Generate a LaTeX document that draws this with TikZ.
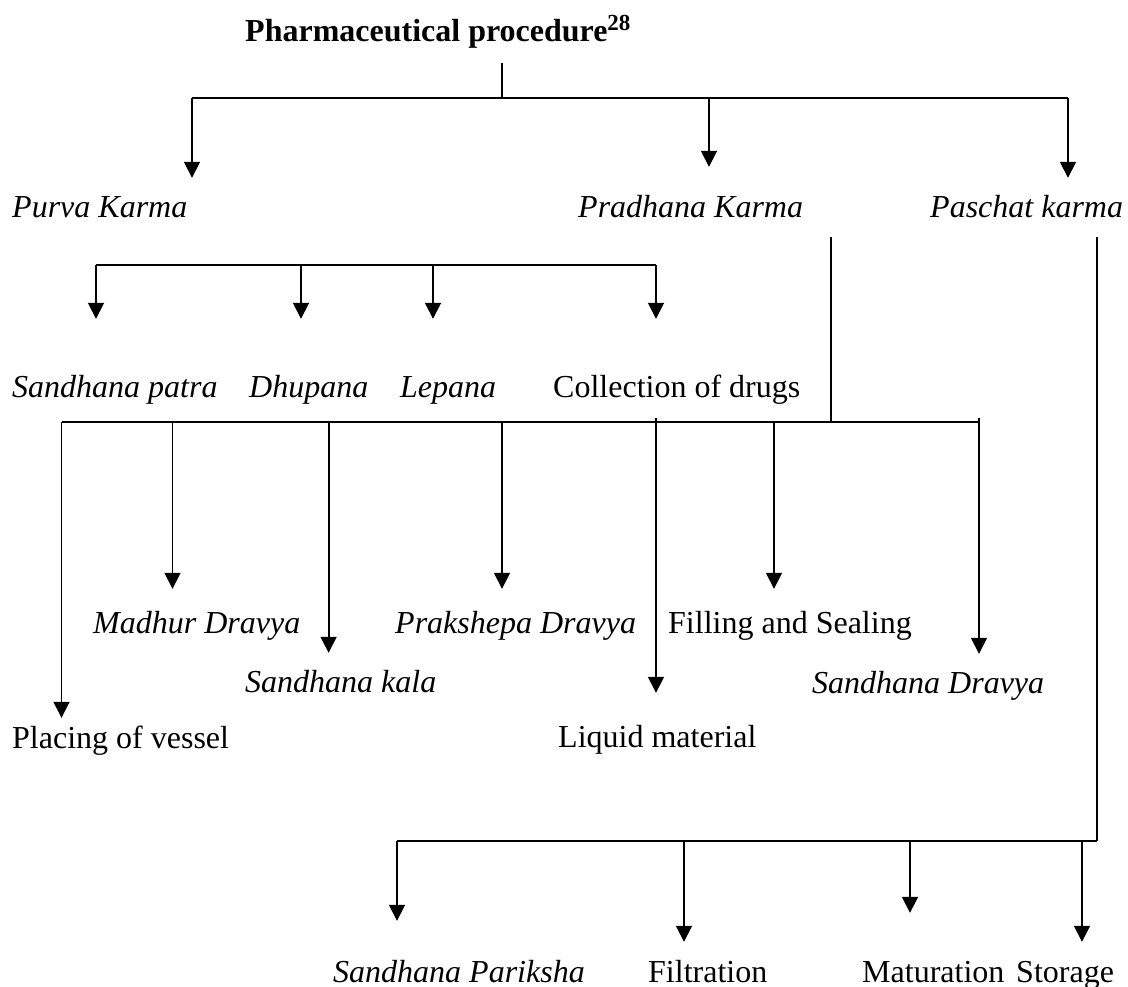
\documentclass[tikz,border=0pt]{standalone}
\usepackage{fontspec}
\setmainfont{Liberation Serif}
\usetikzlibrary{arrows.meta}
\begin{document}
\begin{tikzpicture}[x=1pt,y=-1pt,
  txt/.style={inner sep=0pt,anchor=base west,text height=22pt,text depth=7pt,
              font=\fontsize{32}{38}\selectfont},
  itxt/.style={txt,font=\fontsize{32}{38}\selectfont\itshape},
  btxt/.style={txt,font=\fontsize{32}{38}\selectfont\bfseries},
  wire/.style={line width=1.8pt},
  arr/.style={wire,-{Triangle[width=16pt,length=16pt]}}]
\useasboundingbox (0,0) rectangle (1128,987);

% ---------- labels ----------
\node[btxt] (title) at (245,42) {Pharmaceutical procedure\raisebox{11pt}{\fontsize{23}{26}\selectfont 28}};

\node[itxt] (purva)    at (12,218)  {Purva Karma};
\node[itxt] (pradhana) at (578,218) {Pradhana Karma};
\node[itxt] (paschat)  at (930,218) {Paschat karma};

\node[itxt] (spatra)     at (12,397)  {Sandhana patra};
\node[itxt] (dhupana)    at (249,397) {Dhupana};
\node[itxt] (lepana)     at (400,397) {Lepana};
\node[txt]  (collection) at (553,397) {Collection of drugs};

\node[itxt] (madhur)    at (93,633)  {Madhur Dravya};
\node[itxt] (prakshepa) at (395,633) {Prakshepa Dravya};
\node[txt]  (filling)   at (668,633) {Filling and Sealing};
\node[itxt] (skala)     at (245,692) {Sandhana kala};
\node[itxt] (sdravya)   at (812,693) {Sandhana Dravya};
\node[txt]  (placing)   at (12,748)  {Placing of vessel};
\node[txt]  (liquid)    at (558,747) {Liquid material};

\node[itxt] (pariksha)   at (333,982)  {Sandhana Pariksha};
\node[txt]  (filtration) at (648,982)  {Filtration};
\node[txt]  (maturation) at (862,982)  {Maturation};
\node[txt]  (storage)    at (1016,982) {Storage};

% ---------- top level ----------
\coordinate (kTop)      at (502,98);
\coordinate (kPurva)    at (192,98);
\coordinate (kPradhana) at (709,98);
\coordinate (kPaschat)  at (1068,98);
\draw[wire,shorten <=14pt] (title.south -| kTop) -- (kTop);
\draw[wire] (kPurva) -- (kPaschat);
\draw[arr,shorten >=18pt] (kPurva) -- (kPurva |- purva.north);
\draw[arr,shorten >=29pt] (kPradhana) -- (kPradhana |- pradhana.north);
\draw[arr,shorten >=18pt] (kPaschat) -- (kPaschat |- paschat.north);

% ---------- Purva Karma branches ----------
\coordinate (kSp) at (96,265);
\coordinate (kDh) at (301,265);
\coordinate (kLe) at (433,265);
\coordinate (kCo) at (656,265);
\draw[wire] (kSp) -- (kCo);
\draw[arr,shorten >=56pt] (kSp) -- (kSp |- spatra.north);
\draw[arr,shorten >=56pt] (kDh) -- (kDh |- dhupana.north);
\draw[arr,shorten >=56pt] (kLe) -- (kLe |- lepana.north);
\draw[arr,shorten >=56pt] (kCo) -- (kCo |- collection.north);

% ---------- Pradhana Karma branches ----------
\coordinate (kPr) at (831,422);
\coordinate (kPv) at (61.5,422);
\coordinate (kMd) at (172.5,422);
\coordinate (kSk) at (328.6,422);
\coordinate (kPk) at (502,422);
\coordinate (kLq) at (656,422);
\coordinate (kFs) at (774,422);
\coordinate (kSd) at (979,422);
\draw[wire,shorten <=12pt] (pradhana.south -| kPr) -- (kPr);
\draw[wire] (kPv) -- (kSd);
\draw[arr,shorten >=8pt]  (kPv) -- (kPv |- placing.north);
\draw[arr,shorten >=22pt] (kMd) -- (kMd |- madhur.north);
\draw[arr,shorten >=17pt] (kSk) -- (kSk |- skala.north);
\draw[arr,shorten >=22pt] (kPk) -- (kPk |- prakshepa.north);
\draw[arr,shorten >=32pt] ([yshift=4pt]kLq) -- (kLq |- liquid.north);
\draw[arr,shorten >=22pt] (kFs) -- (kFs |- filling.north);
\draw[arr,shorten >=17pt] ([yshift=4pt]kSd) -- (kSd |- sdravya.north);

% ---------- Paschat karma branches ----------
\coordinate (kPa)  at (1097,841);
\coordinate (kSpk) at (397,841);
\coordinate (kFi)  at (684,841);
\coordinate (kMa)  at (910,841);
\coordinate (kSt)  at (1082,841);
\draw[wire,shorten <=12pt] (paschat.south -| kPa) -- (kPa);
\draw[wire] (kSpk) -- (kPa);
\draw[arr,shorten >=39pt] (kSpk) -- (kSpk |- pariksha.north);
\draw[arr,shorten >=18pt] (kFi) -- (kFi |- filtration.north);
\draw[arr,shorten >=47pt] (kMa) -- (kMa |- maturation.north);
\draw[arr,shorten >=18pt] (kSt) -- (kSt |- storage.north);
\end{tikzpicture}
\end{document}
